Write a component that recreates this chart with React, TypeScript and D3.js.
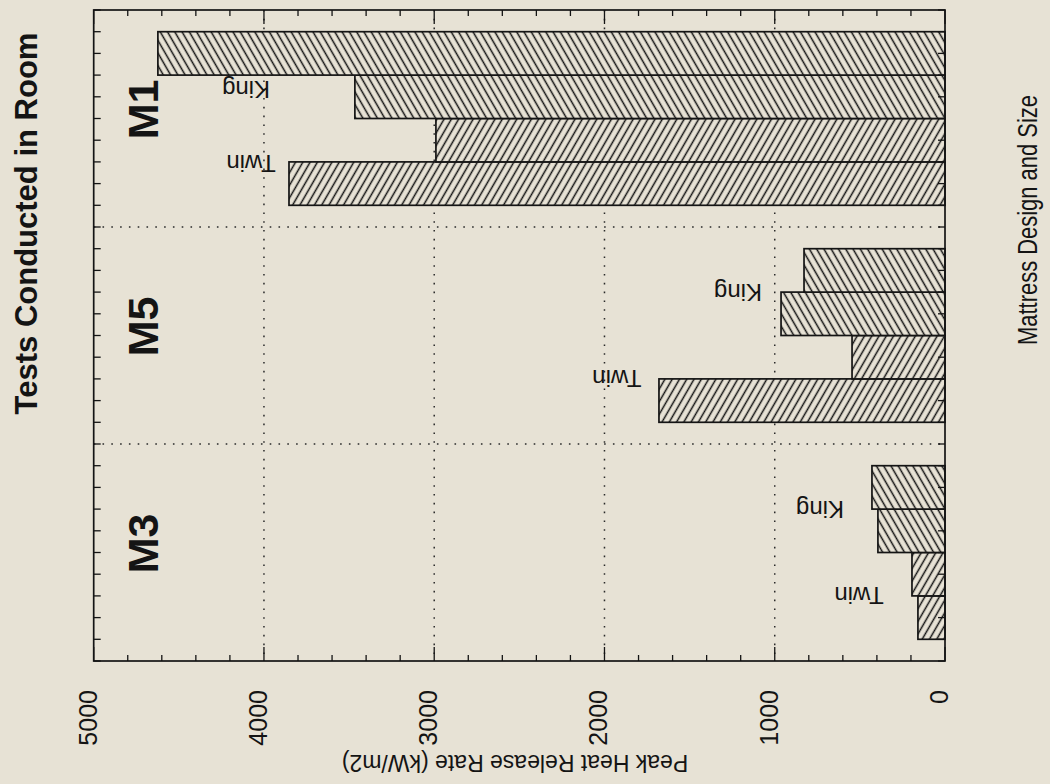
import React from "react";
import * as d3 from "d3";

// ---- data (original chart order: left-to-right = bottom-to-top here) ----
const groups = ["M3", "M5", "M1"];
const seriesNames = ["Twin 1", "Twin 2", "King 1", "King 2"];
const twin1 = [159, 1680, 3853];
const twin2 = [194, 546, 2990];
const king1 = [394, 963, 3466];
const king2 = [429, 828, 4623];
const valueTicks = [0, 1000, 2000, 3000, 4000, 5000];
const gridValues = [1000, 2000, 3000, 4000];
const sizeLabelText = ["Twin", "King"];
// size-label anchor values (kW/m2 along value axis) per group [Twin, King]
const twinLabelValue = [505, 1927, 4076];
const kingLabelValue = [734, 1216, 4105];
// label slot within group, in bar steps from group top
const twinLabelSlot = [3.5, 3.5, 3.53];
const kingLabelSlot = [1.5, 1.5, 1.84];

const W = 1050;
const H = 784;
const BG = "#e7e2d5";
const INK = "#141414";
const FONT = "'Liberation Sans', Arial, Helvetica, sans-serif";

export default function App() {
  const left = 93.7, right = 945, top = 10, bottom = 661;
  const x = d3.scaleLinear().domain([0, 5000]).range([right, left]);
  const gy = d3.scaleBand<string>().domain([...groups].reverse()).range([top, bottom]).padding(0);
  const by = d3
    .scaleBand<string>()
    .domain([...seriesNames].reverse())
    .range([0, gy.bandwidth()])
    .paddingInner(0)
    .paddingOuter(0.5);
  const step = by.step();
  const series = [twin1, twin2, king1, king2];

  const minorTicks = d3.range(0, 5001, 200);
  const halfSteps: number[] = [];
  groups.forEach((g) => {
    for (let k = 0; k < 10; k++) halfSteps.push((gy(g) as number) + (k * step) / 2);
  });
  halfSteps.push(bottom);

  const dotted = { stroke: "#2a2a2a", strokeWidth: 1.5, strokeDasharray: "1.6,7.2", fill: "none" };

  return (
    <svg width={W} height={H} style={{ position: "absolute", left: 0, top: 0, display: "block" }} fontFamily={FONT}>
      <defs>
        <pattern id="hatchTwin" patternUnits="userSpaceOnUse" width={6.3} height={10} patternTransform="rotate(30)">
          <line x1={3.15} y1={-1} x2={3.15} y2={11} stroke={INK} strokeWidth={1.5} />
        </pattern>
        <pattern id="hatchKing" patternUnits="userSpaceOnUse" width={6.3} height={10} patternTransform="rotate(-30)">
          <line x1={3.15} y1={-1} x2={3.15} y2={11} stroke={INK} strokeWidth={1.5} />
        </pattern>
      </defs>
      <rect x={0} y={0} width={W} height={H} fill={BG} />

      {/* gridlines */}
      {gridValues.map((v) => (
        <line key={"gv" + v} x1={x(v)} x2={x(v)} y1={top} y2={bottom} {...dotted} />
      ))}
      {groups.slice(0, 2).map((g) => (
        <line key={"gh" + g} x1={left} x2={right} y1={gy(g)} y2={gy(g)} {...dotted} />
      ))}

      {/* bars */}
      {groups.map((g, gi) =>
        seriesNames.map((s, si) => {
          const v = series[si][gi];
          const y0 = (gy(g) as number) + (by(s) as number);
          const isTwin = si < 2;
          return (
            <g key={g + s}>
              <rect x={x(v)} y={y0} width={x(0) - x(v)} height={by.bandwidth()} fill={BG} />
              <rect
                x={x(v)}
                y={y0}
                width={x(0) - x(v)}
                height={by.bandwidth()}
                fill={isTwin ? "url(#hatchTwin)" : "url(#hatchKing)"}
                stroke={INK}
                strokeWidth={1.7}
              />
            </g>
          );
        })
      )}

      {/* frame */}
      <rect x={left} y={top} width={right - left} height={bottom - top} fill="none" stroke={INK} strokeWidth={1.7} />

      {/* value-axis ticks (top and bottom) */}
      {minorTicks.map((v) => {
        const len = v % 1000 === 0 ? 14 : 6;
        return (
          <g key={"t" + v}>
            <line x1={x(v)} x2={x(v)} y1={top} y2={top + len} stroke={INK} strokeWidth={1.3} />
            <line x1={x(v)} x2={x(v)} y1={bottom} y2={bottom - len} stroke={INK} strokeWidth={1.3} />
          </g>
        );
      })}
      {/* category-axis ticks (left and right) */}
      {halfSteps.map((yv, i) => (
        <g key={"c" + i}>
          <line x1={left} x2={left + 7} y1={yv} y2={yv} stroke={INK} strokeWidth={1.3} />
          <line x1={right} x2={right - 7} y1={yv} y2={yv} stroke={INK} strokeWidth={1.3} />
        </g>
      ))}

      {/* tick labels */}
      {valueTicks.map((v) => (
        <text
          key={"l" + v}
          transform={`translate(${x(v) + 3},690) rotate(-90)`}
          textAnchor="end"
          fontSize={25}
          fill={INK}
        >
          {v}
        </text>
      ))}

      {/* size labels */}
      {groups.map((g, gi) => (
        <g key={"sl" + g}>
          <text
            transform={`translate(${x(twinLabelValue[gi])},${(gy(g) as number) + twinLabelSlot[gi] * step}) rotate(180)`}
            textAnchor="middle"
            dominantBaseline="central"
            fontSize={24}
            fill={INK}
          >
            {sizeLabelText[0]}
          </text>
          <text
            transform={`translate(${x(kingLabelValue[gi])},${(gy(g) as number) + kingLabelSlot[gi] * step}) rotate(180)`}
            textAnchor="middle"
            dominantBaseline="central"
            fontSize={24}
            fill={INK}
          >
            {sizeLabelText[1]}
          </text>
        </g>
      ))}

      {/* group labels */}
      {groups.map((g) => (
        <text
          key={"g" + g}
          transform={`translate(143,${(gy(g) as number) + gy.bandwidth() / 2 - 9}) rotate(-90)`}
          textAnchor="middle"
          dominantBaseline="central"
          fontSize={43}
          fontWeight="bold"
          fill={INK}
        >
          {g}
        </text>
      ))}

      {/* titles */}
      <text
        transform="translate(26,223.5) rotate(-90)"
        textAnchor="middle"
        dominantBaseline="central"
        fontSize={31}
        fontWeight="bold"
        fill={INK}
      >
        Tests Conducted in Room
      </text>
      <text
        transform="translate(1028,220) rotate(-90)"
        textAnchor="middle"
        dominantBaseline="central"
        fontSize={27}
        textLength={250}
        lengthAdjust="spacingAndGlyphs"
        fill={INK}
      >
        Mattress Design and Size
      </text>
      <text
        transform="translate(515,763) rotate(180)"
        textAnchor="middle"
        dominantBaseline="central"
        fontSize={23}
        fill={INK}
      >
        Peak Heat Release Rate (kW/m2)
      </text>
    </svg>
  );
}
